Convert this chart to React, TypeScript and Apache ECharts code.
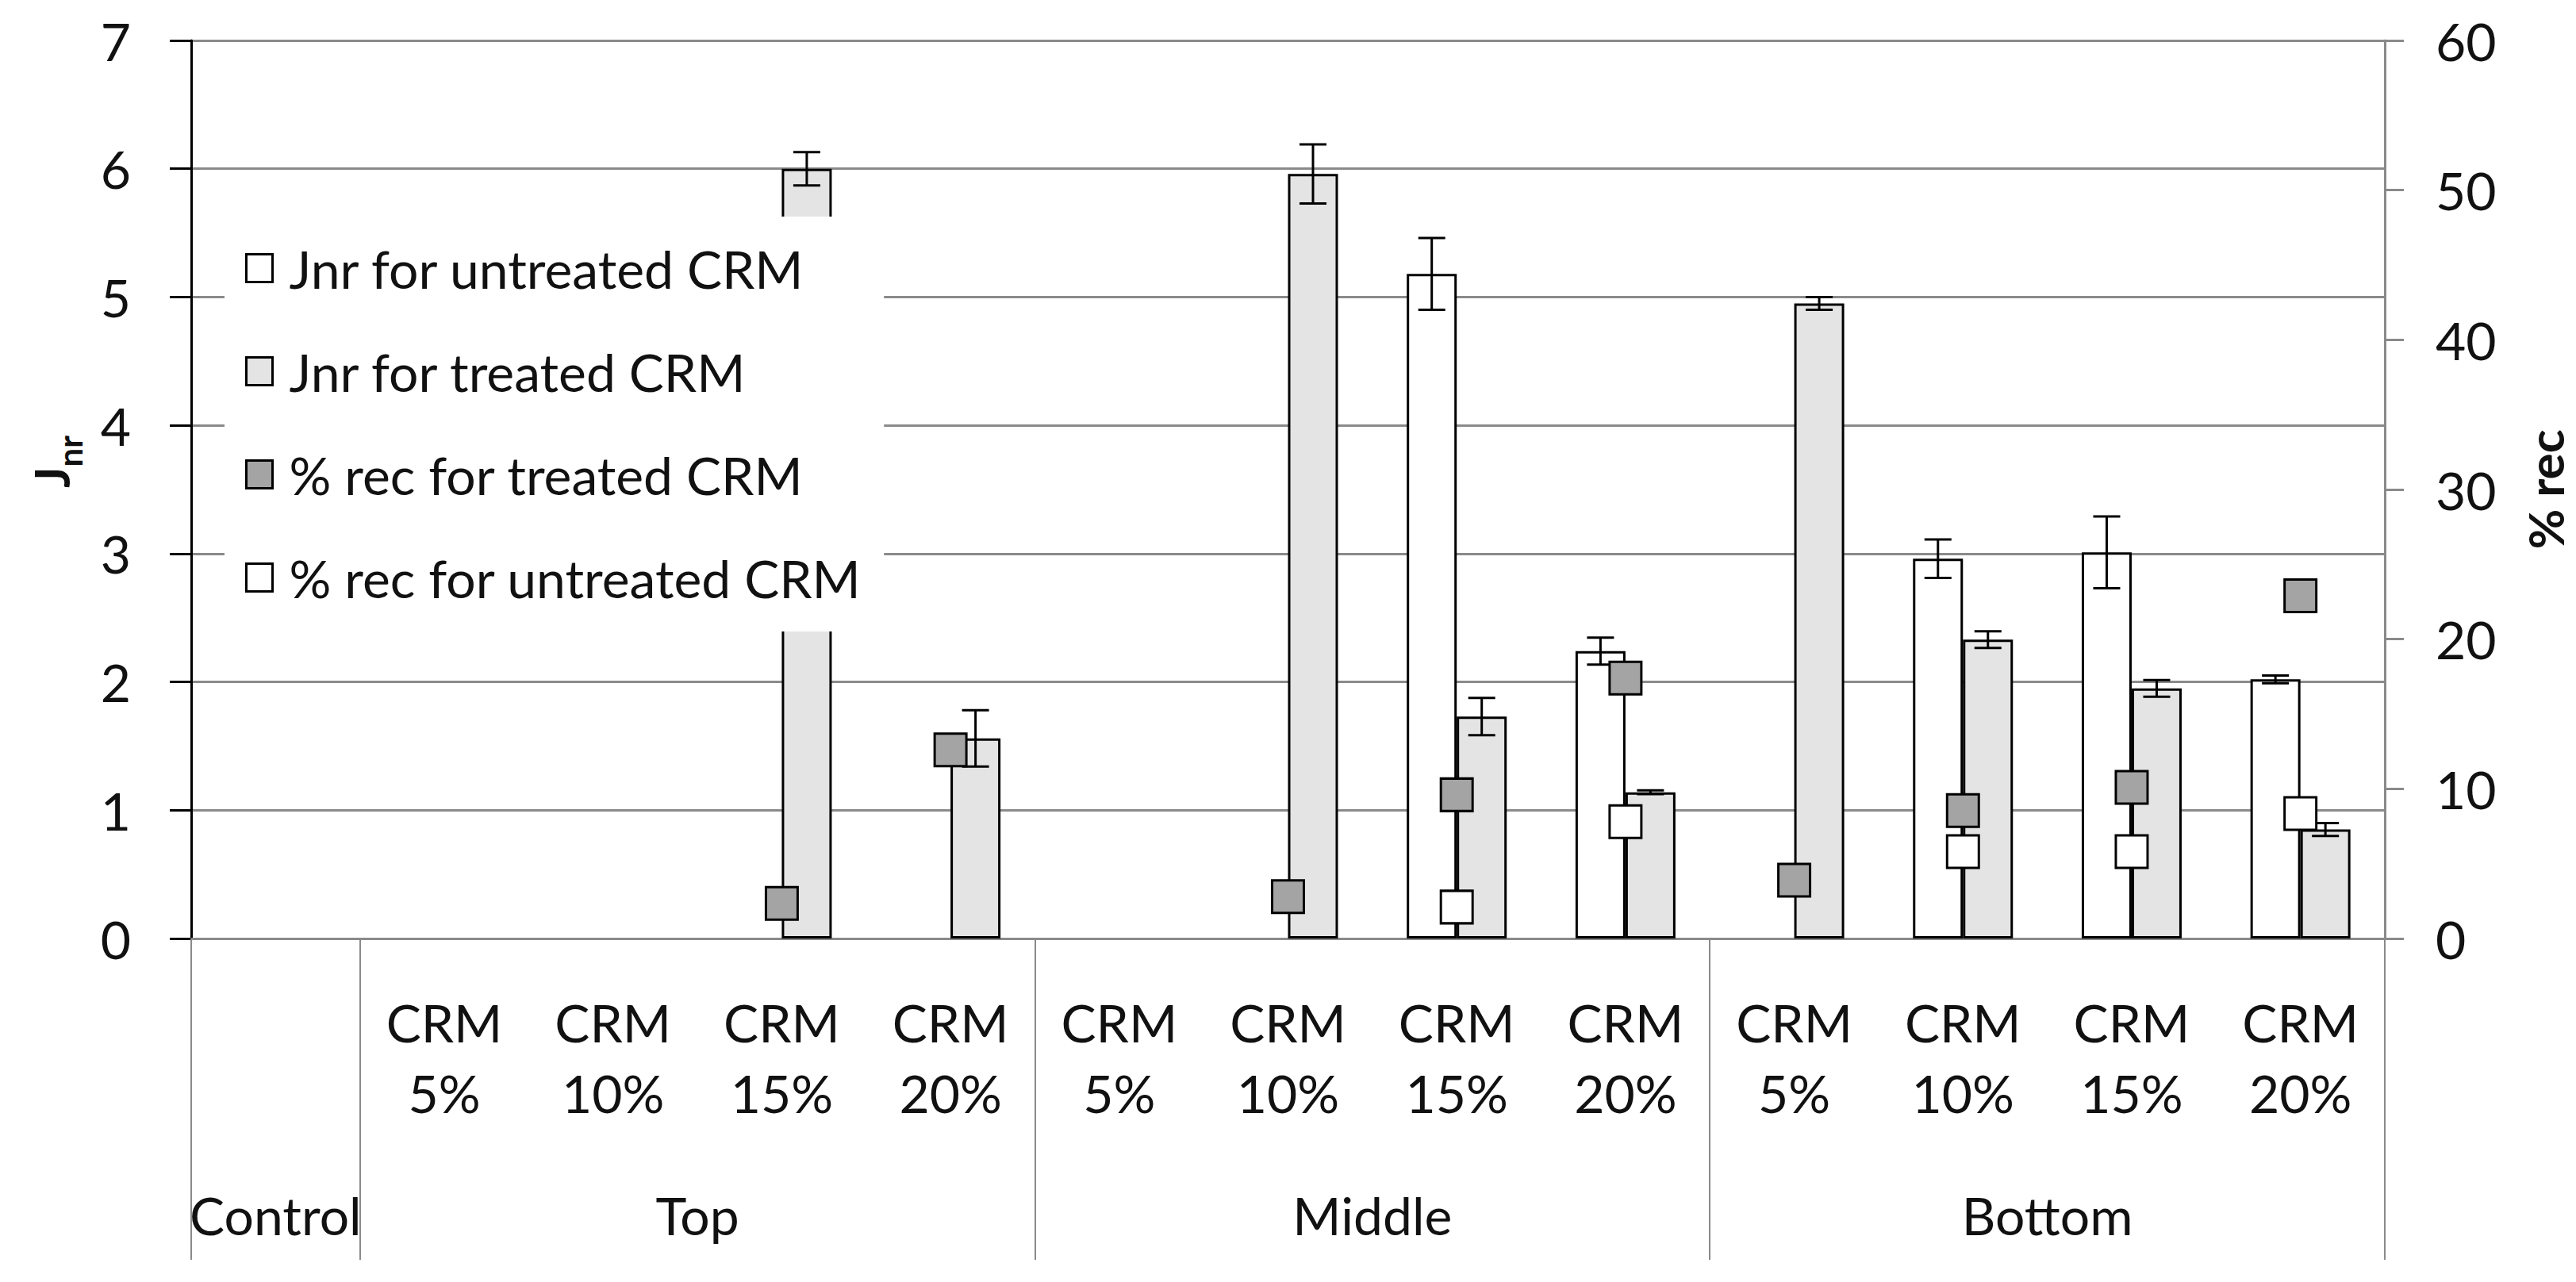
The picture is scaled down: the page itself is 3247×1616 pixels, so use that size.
import React, { useEffect, useRef } from 'react';
import * as echarts from 'echarts';

// ---------- data ----------
const groups = ['Control', 'Top', 'Middle', 'Bottom'];
const groupSizes = [1, 4, 4, 4];
const crmLevels = ['5%', '10%', '15%', '20%'];

const categories = [
  'Control',
  'Top 5%', 'Top 10%', 'Top 15%', 'Top 20%',
  'Middle 5%', 'Middle 10%', 'Middle 15%', 'Middle 20%',
  'Bottom 5%', 'Bottom 10%', 'Bottom 15%', 'Bottom 20%',
];
const categoryLabels = [
  '',
  'CRM\n5%', 'CRM\n10%', 'CRM\n15%', 'CRM\n20%',
  'CRM\n5%', 'CRM\n10%', 'CRM\n15%', 'CRM\n20%',
  'CRM\n5%', 'CRM\n10%', 'CRM\n15%', 'CRM\n20%',
];

const jnrUntreated = [null, null, null, null, null, null, null, 5.18, 2.24, null, 2.96, 3.01, 2.02];
const jnrUntreatedErr = [null, null, null, null, null, null, null, 0.28, 0.105, null, 0.15, 0.28, 0.03];
const jnrTreated = [null, null, null, 6.0, 1.56, null, 5.96, 1.73, 1.14, 4.95, 2.33, 1.95, 0.85];
const jnrTreatedErr = [null, null, null, 0.13, 0.22, null, 0.23, 0.145, 0.015, 0.05, 0.065, 0.065, 0.05];
const recTreated = [null, null, null, 2.35, 12.6, null, 2.8, 9.6, 17.4, 3.9, 8.55, 10.1, 22.9];
const recUntreated = [null, null, null, null, null, null, null, 2.1, 7.8, null, 5.8, 5.8, 8.35];

const seriesNames = [
  'Jnr for untreated CRM',
  'Jnr for treated CRM',
  '% rec for treated CRM',
  '% rec for untreated CRM',
];

const leftMin = 0, leftMax = 7, leftInterval = 1;
const rightMin = 0, rightMax = 60, rightInterval = 10;

// ---------- style constants ----------
const FONT = 'Lato';
const TXT = '#111111';
const GRID_GRAY = '#8a8a8a';
const BAR_W = 63;
const CAP = 34;

// half-category positions for the group axis (boundaryGap false, 2 points per category)
const halfCount = categories.length * 2 + 1;
const halfPoints = Array.from({ length: halfCount }, (_, i) => 'h' + i);
const dividerIdx: number[] = [0];
const groupLabelAt: Record<number, string> = {};
{
  let acc = 0;
  groupSizes.forEach((s, g) => {
    groupLabelAt[acc * 2 + s] = groups[g];
    acc += s;
    dividerIdx.push(acc * 2);
  });
}

function errSeries(vals: (number | null)[], errs: (number | null)[], offset: number) {
  const data = vals
    .map((v, i) => (v == null ? null : [i, v, errs[i] ?? 0]))
    .filter((d) => d != null);
  return {
    type: 'custom',
    xAxisIndex: 0,
    yAxisIndex: 0,
    z: 4,
    silent: true,
    data,
    encode: { x: 0, y: 1 },
    renderItem: (params: any, api: any) => {
      const i = api.value(0);
      const v = api.value(1);
      const e = api.value(2);
      const hi = api.coord([i, v + e]);
      const lo = api.coord([i, v - e]);
      const x = hi[0] + offset;
      const st = { stroke: '#000', lineWidth: 3 };
      return {
        type: 'group',
        children: [
          { type: 'line', shape: { x1: x, y1: hi[1], x2: x, y2: lo[1] }, style: st },
          { type: 'line', shape: { x1: x - CAP / 2, y1: hi[1], x2: x + CAP / 2, y2: hi[1] }, style: st },
          { type: 'line', shape: { x1: x - CAP / 2, y1: lo[1], x2: x + CAP / 2, y2: lo[1] }, style: st },
        ],
      };
    },
  };
}

export default function App() {
  const ref = useRef<HTMLDivElement>(null);

  useEffect(() => {
    if (!ref.current) return;
    const chart = echarts.init(ref.current, undefined, { renderer: 'svg' });
    const option: any = {
      animation: false,
      backgroundColor: '#ffffff',
      textStyle: { fontFamily: FONT, color: TXT },
      grid: { left: 241, right: 239, top: 51, bottom: 433, containLabel: false },
      legend: {
        orient: 'vertical',
        left: 283,
        top: 273,
        data: seriesNames.map((n) => ({ name: n, icon: 'rect' })),
        itemWidth: 33,
        itemHeight: 35,
        itemGap: 60,
        backgroundColor: '#ffffff',
        padding: [30, 28, 33, 26],
        selectedMode: false,
        itemStyle: { borderColor: '#000', borderWidth: 3 },
        textStyle: { fontSize: 66, fontFamily: FONT, color: TXT, lineHeight: 70, padding: [0, 0, 0, 16] },
        z: 10,
      },
      xAxis: [
        {
          type: 'category',
          data: categories,
          position: 'bottom',
          boundaryGap: true,
          axisLine: { show: true, lineStyle: { color: GRID_GRAY, width: 3 } },
          axisTick: { show: false },
          splitLine: { show: false },
          axisLabel: {
            interval: 0,
            formatter: (_v: string, i: number) => categoryLabels[i],
            fontSize: 66,
            lineHeight: 89,
            margin: 61,
            color: TXT,
            fontFamily: FONT,
          },
        },
        {
          type: 'category',
          data: halfPoints,
          position: 'bottom',
          offset: 0,
          boundaryGap: false,
          axisLine: { show: false },
          axisTick: {
            show: true,
            interval: (i: number) => dividerIdx.includes(i),
            length: 405,
            inside: false,
            lineStyle: { color: GRID_GRAY, width: 2 },
          },
          splitLine: { show: false },
          axisLabel: {
            interval: 0,
            formatter: (_v: string, i: number) => groupLabelAt[i] || '',
            fontSize: 66,
            margin: 315,
            color: TXT,
            fontFamily: FONT,
          },
        },
      ],
      yAxis: [
        {
          type: 'value',
          min: leftMin,
          max: leftMax,
          interval: leftInterval,
          position: 'left',
          axisLine: { show: true, lineStyle: { color: '#000', width: 3 } },
          axisTick: { show: true, length: 27, lineStyle: { color: '#000', width: 3 } },
          axisLabel: { fontSize: 66, margin: 76, color: TXT, fontFamily: FONT },
          splitLine: { show: true, lineStyle: { color: GRID_GRAY, width: 3 } },
          name: '{J|J}{nr|nr}',
          nameLocation: 'middle',
          nameRotate: 90,
          nameGap: 146,
          nameTextStyle: {
            padding: [0, 0, 0, 70],
            rich: {
              J: { fontSize: 62, fontWeight: 'bold', fontFamily: FONT, color: TXT, lineHeight: 62, verticalAlign: 'top' },
              nr: { fontSize: 42, fontWeight: 'bold', fontFamily: FONT, color: TXT, lineHeight: 42, padding: [34, 0, 0, 0], verticalAlign: 'top' },
            },
          },
        },
        {
          type: 'value',
          min: rightMin,
          max: rightMax,
          interval: rightInterval,
          position: 'right',
          axisLine: { show: true, lineStyle: { color: GRID_GRAY, width: 3 } },
          axisTick: { show: true, length: 24, lineStyle: { color: GRID_GRAY, width: 3 } },
          axisLabel: { fontSize: 66, margin: 64, color: TXT, fontFamily: FONT },
          splitLine: { show: false },
          name: '% rec',
          nameLocation: 'middle',
          nameRotate: 90,
          nameGap: 171,
          nameTextStyle: { fontSize: 62, fontWeight: 'bold', fontFamily: FONT, color: TXT },
        },
      ],
      series: [
        {
          type: 'bar',
          name: seriesNames[0],
          data: jnrUntreated,
          xAxisIndex: 0,
          yAxisIndex: 0,
          barWidth: BAR_W,
          barGap: '0%',
          itemStyle: { color: '#ffffff', borderColor: '#000', borderWidth: 3 },
          z: 2,
        },
        {
          type: 'bar',
          name: seriesNames[1],
          data: jnrTreated,
          xAxisIndex: 0,
          yAxisIndex: 0,
          barWidth: BAR_W,
          barGap: '0%',
          itemStyle: { color: '#e4e4e4', borderColor: '#000', borderWidth: 3 },
          z: 2,
        },
        errSeries(jnrUntreated, jnrUntreatedErr, -BAR_W / 2),
        errSeries(jnrTreated, jnrTreatedErr, BAR_W / 2),
        {
          type: 'scatter',
          name: seriesNames[2],
          data: recTreated,
          xAxisIndex: 0,
          yAxisIndex: 1,
          symbol: 'rect',
          symbolSize: [40, 41],
          itemStyle: { color: '#a4a4a4', borderColor: '#000', borderWidth: 3, opacity: 1 },
          z: 6,
        },
        {
          type: 'scatter',
          name: seriesNames[3],
          data: recUntreated,
          xAxisIndex: 0,
          yAxisIndex: 1,
          symbol: 'rect',
          symbolSize: [40, 41],
          itemStyle: { color: '#ffffff', borderColor: '#000', borderWidth: 3, opacity: 1 },
          z: 6,
        },
      ],
    };
    chart.setOption(option);
    return () => chart.dispose();
  }, []);

  return (
    <div
      ref={ref}
      style={{ position: 'fixed', left: 0, top: 0, width: 3247, height: 1616, background: '#fff' }}
    />
  );
}
